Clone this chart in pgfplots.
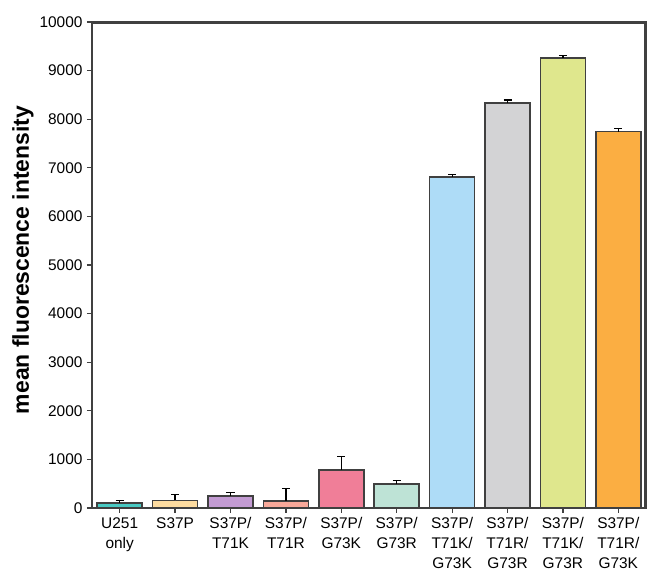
\documentclass[border=0pt]{standalone}
\usepackage{pgfplots}
\pgfplotsset{compat=1.18}
\usepackage{fontspec}
\setmainfont{Liberation Sans}
\definecolor{c1}{RGB}{72,201,194}
\definecolor{c2}{RGB}{253,220,160}
\definecolor{c3}{RGB}{195,155,211}
\definecolor{c4}{RGB}{249,169,154}
\definecolor{c5}{RGB}{240,126,152}
\definecolor{c6}{RGB}{190,227,214}
\definecolor{c7}{RGB}{174,220,247}
\definecolor{c8}{RGB}{211,211,213}
\definecolor{c9}{RGB}{223,231,141}
\definecolor{c10}{RGB}{251,174,66}
\definecolor{axc}{RGB}{64,64,64}
\pgfplotsset{
  mybar/.style={ybar, bar width=0.81, bar shift=0pt, draw=axc, line width=1.6bp, fill=#1,
    error bars/.cd, y dir=plus, y explicit,
    error bar style={line width=1.2bp, draw=black},
    error mark options={rotate=90, mark size=4bp, line width=1.2bp, draw=black}}
}
\begin{document}
\begin{tikzpicture}
\begin{axis}[
  scale only axis, width=554bp, height=486bp,
  xmin=-0.5, xmax=9.5, ymin=0, ymax=10000,
  axis line style={draw=axc, line width=1.5bp},
  every tick/.style={draw=axc, line width=1.2bp},
  tick align=outside, tick pos=left,
  major tick length=5bp,
  ytick={0,1000,...,10000},
  xtick={0,...,9},
  xticklabels={U251\\only, S37P, S37P/\\T71K, S37P/\\T71R, S37P/\\G73K, S37P/\\G73R, S37P/\\T71K/\\G73K, S37P/\\T71R/\\G73R, S37P/\\T71K/\\G73R, S37P/\\T71R/\\G73K},
  xticklabel style={align=center, font=\fontsize{15.5}{20}\selectfont, text depth=0pt, yshift=-1bp},
  yticklabel style={font=\fontsize{15.5}{18}\selectfont, xshift=-1bp},
  scaled y ticks=false,
  /pgf/number format/1000 sep={},
  /pgf/number format/assume math mode=true,
  ylabel={\textbf{mean fluorescence intensity}},
  ylabel style={font=\fontsize{23}{27}\selectfont, xshift=5bp, yshift=-1bp},
  clip=false,
]
\addplot[mybar=c1] coordinates {(0,100) +- (0,50)};
\addplot[mybar=c2] coordinates {(1,155) +- (0,115)};
\addplot[mybar=c3] coordinates {(2,250) +- (0,75)};
\addplot[mybar=c4] coordinates {(3,150) +- (0,255)};
\addplot[mybar=c5] coordinates {(4,785) +- (0,270)};
\addplot[mybar=c6] coordinates {(5,492) +- (0,75)};
\addplot[mybar=c7] coordinates {(6,6805) +- (0,55)};
\addplot[mybar=c8] coordinates {(7,8328) +- (0,65)};
\addplot[mybar=c9] coordinates {(8,9255) +- (0,55)};
\addplot[mybar=c10] coordinates {(9,7745) +- (0,65)};
\end{axis}
\draw[draw=black!75, line width=3bp] ([yshift=-0.8bp]current axis.north west) -- ([xshift=-0.8bp,yshift=-0.8bp]current axis.north east) -- ([xshift=-0.8bp]current axis.south east);
\path (current axis.south west) ++(-92bp,-64bp) rectangle ([shift={(2bp,22bp)}]current axis.north east);
\end{tikzpicture}
\end{document}
